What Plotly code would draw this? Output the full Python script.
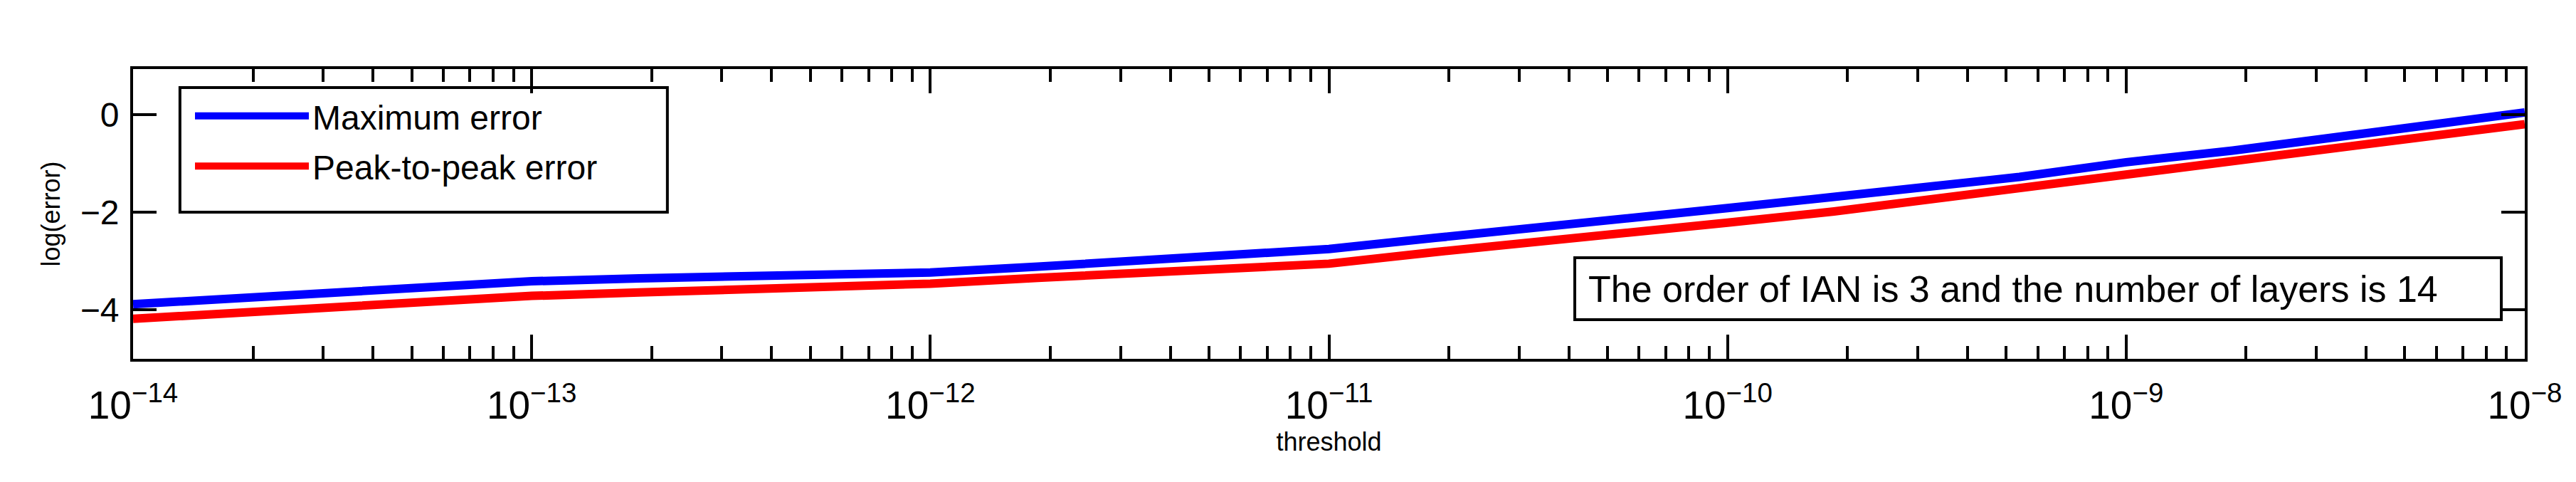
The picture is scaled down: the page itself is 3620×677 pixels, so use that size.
import plotly.graph_objects as go

# threshold values (x) and log10 errors
threshold = [1.0e-14, 2.31e-14, 5.42e-14, 1.0e-13, 1.86e-13, 5.41e-13, 1.0e-12,
             1.86e-12, 5.41e-12, 1.0e-11, 1.85e-11, 5.41e-11, 1.0e-10, 1.85e-10,
             5.40e-10, 1.0e-9, 1.85e-9, 4.05e-9, 1.0e-8]
max_error = [-3.88, -3.71, -3.52, -3.41, -3.35, -3.29, -3.23, -3.11, -2.87, -2.75,
             -2.52, -2.16, -1.91, -1.68, -1.27, -0.97, -0.73, -0.37, 0.05]
p2p_error = [-4.18, -4.00, -3.82, -3.71, -3.64, -3.52, -3.46, -3.34, -3.17, -3.05,
             -2.81, -2.45, -2.21, -1.98, -1.50, -1.21, -0.97, -0.61, -0.19]

series_names = ["Maximum error", "Peak-to-peak error"]
y_ticks = [-4, -2, 0]
note = "The order of IAN is 3 and the number of layers is 14"

FONT = "Liberation Sans, Arial, sans-serif"

fig = go.Figure()
fig.add_trace(go.Scatter(
    x=threshold, y=max_error, mode="lines", name=series_names[0],
    legendgroup="max", line=dict(color="#0000ff", width=12)
))
fig.add_trace(go.Scatter(
    x=threshold, y=p2p_error, mode="lines", name=series_names[1],
    legendgroup="p2p", line=dict(color="#ff0000", width=12)
))

axis_common = dict(
    showline=True, linecolor="black", linewidth=4, mirror="ticks",
    ticks="inside", tickcolor="black", tickwidth=3.5,
    showgrid=False, zeroline=False,
)

fig.update_layout(
    width=3620, height=677,
    margin=dict(l=179, r=80, t=89, b=181),
    paper_bgcolor="white", plot_bgcolor="white",
    font=dict(family=FONT, color="black", size=48),
    xaxis=dict(
        type="log", range=[-14, -8], dtick=1, exponentformat="power",
        ticklen=34, tickfont=dict(size=44), ticklabelstandoff=16,
        minor=dict(ticks="inside", ticklen=18, tickwidth=3.5, tickcolor="black",
                   dtick="D1", showgrid=False),
        title=dict(text="threshold", font=dict(size=36), standoff=8),
        **axis_common
    ),
    yaxis=dict(
        range=[-5, 0.94], tickvals=y_ticks, ticklen=33,
        tickfont=dict(size=48), ticklabelstandoff=6,
        title=dict(text="log(error)", font=dict(size=36), standoff=18),
        **axis_common
    ),
    legend=dict(
        x=0.0244, y=0.931, xanchor="left", yanchor="top",
        borderwidth=0, bgcolor="rgba(0,0,0,0)",
        font=dict(size=48), itemwidth=160, tracegroupgap=5,
    ),
    shapes=[
        # legend frame
        dict(type="rect", xref="paper", yref="paper",
             x0=0.0196, x1=0.2234, y0=0.5061, y1=0.9361,
             line=dict(color="black", width=4)),
        # text box frame
        dict(type="rect", xref="paper", yref="paper",
             x0=0.6028, x1=0.9902, y0=0.1351, y1=0.3489,
             line=dict(color="black", width=4)),
    ],
    annotations=[dict(
        text=note, xref="paper", yref="paper",
        x=0.6078, y=0.2400, xanchor="left", yanchor="middle",
        showarrow=False, align="left", font=dict(size=52),
    )],
)

fig.write_html("out.html")
